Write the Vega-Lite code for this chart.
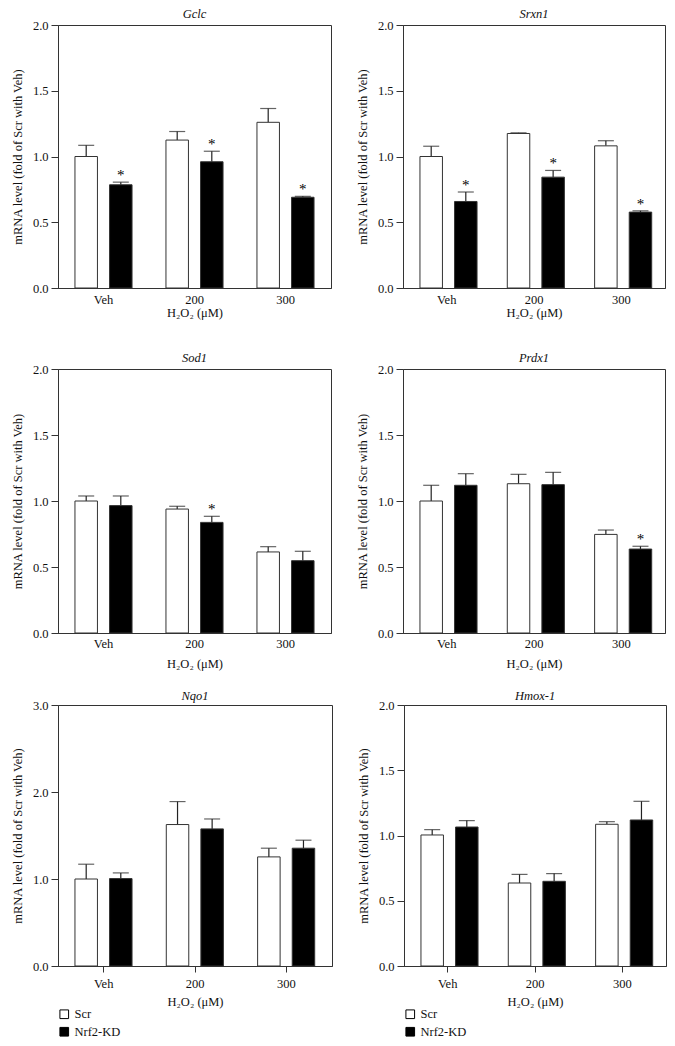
{
  "$schema": "https://vega.github.io/schema/vega-lite/v6.json",
  "padding": {"left": 10, "top": 7, "right": 5, "bottom": 5},
  "background": "white",
  "datasets": {
    "rna": [
      {"gene": "Gclc", "dose": "Veh", "group": "Scr", "value": 1.0, "upper": 1.085, "star": ""},
      {"gene": "Gclc", "dose": "Veh", "group": "Nrf2-KD", "value": 0.785, "upper": 0.805, "star": "*"},
      {"gene": "Gclc", "dose": "200", "group": "Scr", "value": 1.125, "upper": 1.19, "star": ""},
      {"gene": "Gclc", "dose": "200", "group": "Nrf2-KD", "value": 0.96, "upper": 1.04, "star": "*"},
      {"gene": "Gclc", "dose": "300", "group": "Scr", "value": 1.26, "upper": 1.365, "star": ""},
      {"gene": "Gclc", "dose": "300", "group": "Nrf2-KD", "value": 0.69, "upper": 0.697, "star": "*"},
      {"gene": "Srxn1", "dose": "Veh", "group": "Scr", "value": 1.0, "upper": 1.078, "star": ""},
      {"gene": "Srxn1", "dose": "Veh", "group": "Nrf2-KD", "value": 0.658, "upper": 0.73, "star": "*"},
      {"gene": "Srxn1", "dose": "200", "group": "Scr", "value": 1.175, "upper": 1.18, "star": ""},
      {"gene": "Srxn1", "dose": "200", "group": "Nrf2-KD", "value": 0.843, "upper": 0.894, "star": "*"},
      {"gene": "Srxn1", "dose": "300", "group": "Scr", "value": 1.081, "upper": 1.12, "star": ""},
      {"gene": "Srxn1", "dose": "300", "group": "Nrf2-KD", "value": 0.577, "upper": 0.587, "star": "*"},
      {"gene": "Sod1", "dose": "Veh", "group": "Scr", "value": 1.0, "upper": 1.038, "star": ""},
      {"gene": "Sod1", "dose": "Veh", "group": "Nrf2-KD", "value": 0.965, "upper": 1.038, "star": ""},
      {"gene": "Sod1", "dose": "200", "group": "Scr", "value": 0.939, "upper": 0.96, "star": ""},
      {"gene": "Sod1", "dose": "200", "group": "Nrf2-KD", "value": 0.838, "upper": 0.884, "star": "*"},
      {"gene": "Sod1", "dose": "300", "group": "Scr", "value": 0.614, "upper": 0.654, "star": ""},
      {"gene": "Sod1", "dose": "300", "group": "Nrf2-KD", "value": 0.548, "upper": 0.619, "star": ""},
      {"gene": "Prdx1", "dose": "Veh", "group": "Scr", "value": 1.0, "upper": 1.119, "star": ""},
      {"gene": "Prdx1", "dose": "Veh", "group": "Nrf2-KD", "value": 1.119, "upper": 1.207, "star": ""},
      {"gene": "Prdx1", "dose": "200", "group": "Scr", "value": 1.131, "upper": 1.202, "star": ""},
      {"gene": "Prdx1", "dose": "200", "group": "Nrf2-KD", "value": 1.124, "upper": 1.217, "star": ""},
      {"gene": "Prdx1", "dose": "300", "group": "Scr", "value": 0.747, "upper": 0.78, "star": ""},
      {"gene": "Prdx1", "dose": "300", "group": "Nrf2-KD", "value": 0.636, "upper": 0.657, "star": "*"},
      {"gene": "Nqo1", "dose": "Veh", "group": "Scr", "value": 1.0, "upper": 1.17, "star": ""},
      {"gene": "Nqo1", "dose": "Veh", "group": "Nrf2-KD", "value": 1.005, "upper": 1.07, "star": ""},
      {"gene": "Nqo1", "dose": "200", "group": "Scr", "value": 1.626, "upper": 1.89, "star": ""},
      {"gene": "Nqo1", "dose": "200", "group": "Nrf2-KD", "value": 1.576, "upper": 1.69, "star": ""},
      {"gene": "Nqo1", "dose": "300", "group": "Scr", "value": 1.254, "upper": 1.354, "star": ""},
      {"gene": "Nqo1", "dose": "300", "group": "Nrf2-KD", "value": 1.354, "upper": 1.446, "star": ""},
      {"gene": "Hmox-1", "dose": "Veh", "group": "Scr", "value": 1.004, "upper": 1.045, "star": ""},
      {"gene": "Hmox-1", "dose": "Veh", "group": "Nrf2-KD", "value": 1.065, "upper": 1.114, "star": ""},
      {"gene": "Hmox-1", "dose": "200", "group": "Scr", "value": 0.636, "upper": 0.702, "star": ""},
      {"gene": "Hmox-1", "dose": "200", "group": "Nrf2-KD", "value": 0.649, "upper": 0.708, "star": ""},
      {"gene": "Hmox-1", "dose": "300", "group": "Scr", "value": 1.086, "upper": 1.106, "star": ""},
      {"gene": "Hmox-1", "dose": "300", "group": "Nrf2-KD", "value": 1.119, "upper": 1.262, "star": ""}
    ]
  },
  "data": {"name": "rna"},
  "spacing": 19,
  "resolve": {"scale": {"fill": "independent"}, "legend": {"fill": "independent"}},
  "vconcat": [
    {
      "spacing": 32,
      "resolve": {"scale": {"fill": "independent"}, "legend": {"fill": "independent"}},
      "vconcat": [
        {
          "spacing": 23,
          "resolve": {"scale": {"fill": "independent"}, "legend": {"fill": "independent"}},
          "hconcat": [
            {
              "width": 273, "height": 263,
              "title": {"text": "Gclc", "offset": -1},
              "transform": [{"filter": "datum.gene === 'Gclc'"}],
              "encoding": {
                "x": {"field": "dose", "type": "nominal", "sort": ["Veh", "200", "300"], "scale": {"paddingInner": 0, "paddingOuter": 0}, "title": "H₂O₂ (μM)", "axis": {"ticks": false, "labelPadding": 5.5, "titlePadding": 0}},
                "xOffset": {"field": "group", "type": "nominal", "sort": ["Scr", "Nrf2-KD"], "scale": {"paddingInner": 0.35, "paddingOuter": 0.49}},
                "y": {"field": "value", "type": "quantitative", "scale": {"domain": [0, 2], "nice": false}, "title": "mRNA level (fold of Scr with Veh)", "axis": {"values": [0, 0.5, 1, 1.5, 2], "format": ".1f"}}
              },
              "layer": [
                {"mark": {"type": "rule", "color": "#222", "strokeWidth": 1.2}, "encoding": {"y2": {"field": "upper"}}},
                {"mark": {"type": "tick", "color": "#222", "thickness": 1.2, "size": 16}, "encoding": {"y": {"field": "upper", "type": "quantitative"}}},
                {"mark": {"type": "bar", "stroke": "#333", "strokeWidth": 1}, "encoding": {"fill": {"field": "group", "type": "nominal", "scale": {"domain": ["Scr", "Nrf2-KD"], "range": ["white", "black"]}, "legend": null}}},
                {"mark": {"type": "text", "fontSize": 15, "dy": -7, "baseline": "middle", "color": "black"}, "encoding": {"y": {"field": "upper", "type": "quantitative"}, "text": {"field": "star"}}}
              ]
            },
            {
              "width": 262, "height": 263,
              "title": {"text": "Srxn1", "offset": -1},
              "transform": [{"filter": "datum.gene === 'Srxn1'"}],
              "encoding": {
                "x": {"field": "dose", "type": "nominal", "sort": ["Veh", "200", "300"], "scale": {"paddingInner": 0, "paddingOuter": 0}, "title": "H₂O₂ (μM)", "axis": {"ticks": false, "labelPadding": 5.5, "titlePadding": 0}},
                "xOffset": {"field": "group", "type": "nominal", "sort": ["Scr", "Nrf2-KD"], "scale": {"paddingInner": 0.35, "paddingOuter": 0.49}},
                "y": {"field": "value", "type": "quantitative", "scale": {"domain": [0, 2], "nice": false}, "title": "mRNA level (fold of Scr with Veh)", "axis": {"values": [0, 0.5, 1, 1.5, 2], "format": ".1f"}}
              },
              "layer": [
                {"mark": {"type": "rule", "color": "#222", "strokeWidth": 1.2}, "encoding": {"y2": {"field": "upper"}}},
                {"mark": {"type": "tick", "color": "#222", "thickness": 1.2, "size": 16}, "encoding": {"y": {"field": "upper", "type": "quantitative"}}},
                {"mark": {"type": "bar", "stroke": "#333", "strokeWidth": 1}, "encoding": {"fill": {"field": "group", "type": "nominal", "scale": {"domain": ["Scr", "Nrf2-KD"], "range": ["white", "black"]}, "legend": null}}},
                {"mark": {"type": "text", "fontSize": 15, "dy": -7, "baseline": "middle", "color": "black"}, "encoding": {"y": {"field": "upper", "type": "quantitative"}, "text": {"field": "star"}}}
              ]
            }
          ]
        },
        {
          "spacing": 23,
          "resolve": {"scale": {"fill": "independent"}, "legend": {"fill": "independent"}},
          "hconcat": [
            {
              "width": 273, "height": 264,
              "title": {"text": "Sod1", "offset": -1.5},
              "transform": [{"filter": "datum.gene === 'Sod1'"}],
              "encoding": {
                "x": {"field": "dose", "type": "nominal", "sort": ["Veh", "200", "300"], "scale": {"paddingInner": 0, "paddingOuter": 0}, "title": "H₂O₂ (μM)", "axis": {"ticks": false, "labelPadding": 4, "titlePadding": 7.5}},
                "xOffset": {"field": "group", "type": "nominal", "sort": ["Scr", "Nrf2-KD"], "scale": {"paddingInner": 0.35, "paddingOuter": 0.49}},
                "y": {"field": "value", "type": "quantitative", "scale": {"domain": [0, 2], "nice": false}, "title": "mRNA level (fold of Scr with Veh)", "axis": {"values": [0, 0.5, 1, 1.5, 2], "format": ".1f"}}
              },
              "layer": [
                {"mark": {"type": "rule", "color": "#222", "strokeWidth": 1.2}, "encoding": {"y2": {"field": "upper"}}},
                {"mark": {"type": "tick", "color": "#222", "thickness": 1.2, "size": 16}, "encoding": {"y": {"field": "upper", "type": "quantitative"}}},
                {"mark": {"type": "bar", "stroke": "#333", "strokeWidth": 1}, "encoding": {"fill": {"field": "group", "type": "nominal", "scale": {"domain": ["Scr", "Nrf2-KD"], "range": ["white", "black"]}, "legend": null}}},
                {"mark": {"type": "text", "fontSize": 15, "dy": -7, "baseline": "middle", "color": "black"}, "encoding": {"y": {"field": "upper", "type": "quantitative"}, "text": {"field": "star"}}}
              ]
            },
            {
              "width": 262, "height": 264,
              "title": {"text": "Prdx1", "offset": -1.5},
              "transform": [{"filter": "datum.gene === 'Prdx1'"}],
              "encoding": {
                "x": {"field": "dose", "type": "nominal", "sort": ["Veh", "200", "300"], "scale": {"paddingInner": 0, "paddingOuter": 0}, "title": "H₂O₂ (μM)", "axis": {"ticks": false, "labelPadding": 4, "titlePadding": 7.5}},
                "xOffset": {"field": "group", "type": "nominal", "sort": ["Scr", "Nrf2-KD"], "scale": {"paddingInner": 0.35, "paddingOuter": 0.49}},
                "y": {"field": "value", "type": "quantitative", "scale": {"domain": [0, 2], "nice": false}, "title": "mRNA level (fold of Scr with Veh)", "axis": {"values": [0, 0.5, 1, 1.5, 2], "format": ".1f"}}
              },
              "layer": [
                {"mark": {"type": "rule", "color": "#222", "strokeWidth": 1.2}, "encoding": {"y2": {"field": "upper"}}},
                {"mark": {"type": "tick", "color": "#222", "thickness": 1.2, "size": 16}, "encoding": {"y": {"field": "upper", "type": "quantitative"}}},
                {"mark": {"type": "bar", "stroke": "#333", "strokeWidth": 1}, "encoding": {"fill": {"field": "group", "type": "nominal", "scale": {"domain": ["Scr", "Nrf2-KD"], "range": ["white", "black"]}, "legend": null}}},
                {"mark": {"type": "text", "fontSize": 15, "dy": -7, "baseline": "middle", "color": "black"}, "encoding": {"y": {"field": "upper", "type": "quantitative"}, "text": {"field": "star"}}}
              ]
            }
          ]
        }
      ]
    },
    {
      "spacing": 23,
      "resolve": {"scale": {"fill": "independent"}, "legend": {"fill": "independent"}},
      "hconcat": [
        {
          "width": 274, "height": 261,
          "title": {"text": "Nqo1", "offset": -3.5},
          "transform": [{"filter": "datum.gene === 'Nqo1'"}],
          "encoding": {
            "x": {"field": "dose", "type": "nominal", "sort": ["Veh", "200", "300"], "scale": {"paddingInner": 0, "paddingOuter": 0}, "title": "H₂O₂ (μM)", "axis": {"ticks": true, "tickSize": 6, "labelPadding": 5.5, "titlePadding": 5.5}},
            "xOffset": {"field": "group", "type": "nominal", "sort": ["Scr", "Nrf2-KD"], "scale": {"paddingInner": 0.35, "paddingOuter": 0.49}},
            "y": {"field": "value", "type": "quantitative", "scale": {"domain": [0, 3], "nice": false}, "title": "mRNA level (fold of Scr with Veh)", "axis": {"values": [0, 1, 2, 3], "format": ".1f"}}
          },
          "layer": [
            {"mark": {"type": "rule", "color": "#222", "strokeWidth": 1.2}, "encoding": {"y2": {"field": "upper"}}},
            {"mark": {"type": "tick", "color": "#222", "thickness": 1.2, "size": 16}, "encoding": {"y": {"field": "upper", "type": "quantitative"}}},
            {"mark": {"type": "bar", "stroke": "#333", "strokeWidth": 1}, "encoding": {"fill": {"field": "group", "type": "nominal", "scale": {"domain": ["Scr", "Nrf2-KD"], "range": ["white", "black"]}, "legend": {"orient": "bottom", "direction": "vertical", "title": null, "symbolType": "square", "symbolSize": 75, "symbolStrokeColor": "black", "symbolStrokeWidth": 1, "labelFont": "Liberation Serif", "labelFontSize": 12.5, "labelColor": "#111", "rowPadding": 3.5, "offset": 0}}}},
            {"mark": {"type": "text", "fontSize": 15, "dy": -7, "baseline": "middle", "color": "black"}, "encoding": {"y": {"field": "upper", "type": "quantitative"}, "text": {"field": "star"}}}
          ]
        },
        {
          "width": 262, "height": 261,
          "title": {"text": "Hmox-1", "offset": -3.5},
          "transform": [{"filter": "datum.gene === 'Hmox-1'"}],
          "encoding": {
            "x": {"field": "dose", "type": "nominal", "sort": ["Veh", "200", "300"], "scale": {"paddingInner": 0, "paddingOuter": 0}, "title": "H₂O₂ (μM)", "axis": {"ticks": true, "tickSize": 6, "labelPadding": 5.5, "titlePadding": 5.5}},
            "xOffset": {"field": "group", "type": "nominal", "sort": ["Scr", "Nrf2-KD"], "scale": {"paddingInner": 0.35, "paddingOuter": 0.49}},
            "y": {"field": "value", "type": "quantitative", "scale": {"domain": [0, 2], "nice": false}, "title": "mRNA level (fold of Scr with Veh)", "axis": {"values": [0, 0.5, 1, 1.5, 2], "format": ".1f"}}
          },
          "layer": [
            {"mark": {"type": "rule", "color": "#222", "strokeWidth": 1.2}, "encoding": {"y2": {"field": "upper"}}},
            {"mark": {"type": "tick", "color": "#222", "thickness": 1.2, "size": 16}, "encoding": {"y": {"field": "upper", "type": "quantitative"}}},
            {"mark": {"type": "bar", "stroke": "#333", "strokeWidth": 1}, "encoding": {"fill": {"field": "group", "type": "nominal", "scale": {"domain": ["Scr", "Nrf2-KD"], "range": ["white", "black"]}, "legend": {"orient": "bottom", "direction": "vertical", "title": null, "symbolType": "square", "symbolSize": 75, "symbolStrokeColor": "black", "symbolStrokeWidth": 1, "labelFont": "Liberation Serif", "labelFontSize": 12.5, "labelColor": "#111", "rowPadding": 3.5, "offset": 0}}}},
            {"mark": {"type": "text", "fontSize": 15, "dy": -7, "baseline": "middle", "color": "black"}, "encoding": {"y": {"field": "upper", "type": "quantitative"}, "text": {"field": "star"}}}
          ]
        }
      ]
    }
  ],
  "config": {
    "font": "Liberation Serif",
    "view": {"stroke": "#333", "strokeWidth": 1},
    "title": {"font": "Liberation Serif", "fontSize": 12.5, "fontStyle": "italic", "fontWeight": "normal", "color": "#111", "anchor": "middle"},
    "axis": {"labelFont": "Liberation Serif", "titleFont": "Liberation Serif", "labelFontSize": 12.5, "titleFontSize": 12.5, "titleFontWeight": "normal", "labelColor": "#111", "titleColor": "#111", "domainColor": "#333", "tickColor": "#333", "grid": false},
    "axisY": {"tickSize": 7, "labelPadding": 3, "titlePadding": 8},
    "axisX": {"labelAngle": 0}
  }
}
